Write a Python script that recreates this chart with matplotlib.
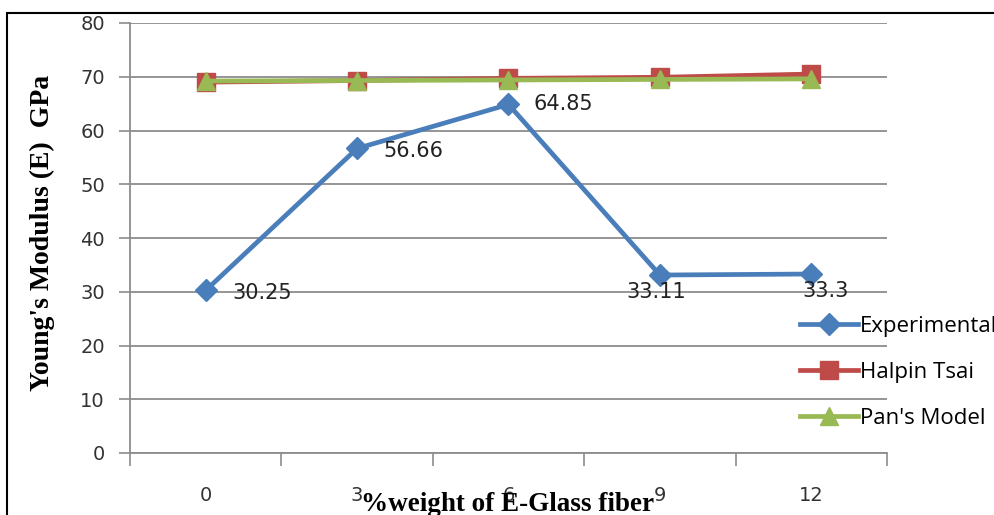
import numpy as np
import matplotlib.pyplot as plt
from matplotlib.patches import Rectangle

# data
categories = ['0', '3', '6', '9', '12']
experimental = [30.25, 56.66, 64.85, 33.11, 33.3]
halpin_tsai = [69.0, 69.3, 69.7, 69.9, 70.5]
pans_model = [69.2, 69.3, 69.4, 69.5, 69.6]
exp_labels = ['30.25', '56.66', '64.85', '33.11', '33.3']
# label offsets in points (x, y)
label_offsets = [(19, -2), (19, -2), (18, 0), (-3, -12), (10, -12)]

blue = '#4A7EBB'
red = '#BE4B48'
green = '#98B954'
grid_col = '#8C8C8C'

fig = plt.figure(figsize=(9.95, 5.15), dpi=100)
ax = fig.add_axes([130 / 995, 1 - 453 / 515, (887 - 130) / 995, (453 - 23) / 515])

x = np.arange(len(categories))
ax.plot(x, experimental, color=blue, lw=3.4, marker='D', ms=11, label='Experimental', zorder=5)
ax.plot(x, halpin_tsai, color=red, lw=3.4, marker='s', ms=13, label='Halpin Tsai', zorder=3)
ax.plot(x, pans_model, color=green, lw=3.4, marker='^', ms=13, label="Pan's Model", zorder=4)

for xi, yi, txt, off in zip(x, experimental, exp_labels, label_offsets):
    ax.annotate(txt, (xi, yi), xytext=off, textcoords='offset points',
                ha='left' if off[0] > 15 else 'center', va='center',
                fontsize=15, color='#222222', zorder=6)

ax.set_xlim(-0.5, len(categories) - 0.5)
ax.set_ylim(0, 80)
ax.set_yticks(np.arange(0, 81, 10))
ax.yaxis.grid(True, color=grid_col, lw=1.3)
ax.set_axisbelow(True)

# category axis: ticks between categories, labels centred
ax.set_xticks(np.arange(-0.5, len(categories)), minor=False)
ax.set_xticklabels([])
ax.set_xticks(x, minor=True)
ax.set_xticklabels(categories, minor=True)
ax.tick_params(axis='x', which='major', length=9, width=1.2, color=grid_col)
ax.tick_params(axis='x', which='minor', length=0, pad=24, labelsize=14, labelcolor='#333333')
ax.tick_params(axis='y', length=8, width=1.2, color=grid_col, labelsize=14,
               labelcolor='#333333', pad=10)

for side in ['top', 'right']:
    ax.spines[side].set_visible(False)
for side in ['left', 'bottom']:
    ax.spines[side].set_color(grid_col)
    ax.spines[side].set_linewidth(1.3)

fig.text(42 / 995, 1 - 233 / 515, "Young's Modulus (E)  GPa", family='Liberation Serif',
         fontweight='bold', fontsize=20, rotation=90, ha='center', va='center')
fig.text(508 / 995, 1 - 511 / 515, '%weight of E-Glass fiber', family='Liberation Serif',
         fontweight='bold', fontsize=19.5, ha='center', va='baseline')

leg = ax.legend(loc='upper left', bbox_to_anchor=(780 / 995, 1 - 296 / 515),
                bbox_transform=fig.transFigure, frameon=False,
                handlelength=2.6, handletextpad=0.1, labelspacing=1.12,
                prop={'family': 'Open Sans', 'size': 16})

# outer chart border, partly cut off like in the reference
fig.patches.append(Rectangle((7 / 995, -0.1), 1.2, 1 - 13 / 515 + 0.1, transform=fig.transFigure,
                             fill=False, edgecolor='black', lw=1.5, clip_on=False))

plt.savefig('out.png', dpi=100)
